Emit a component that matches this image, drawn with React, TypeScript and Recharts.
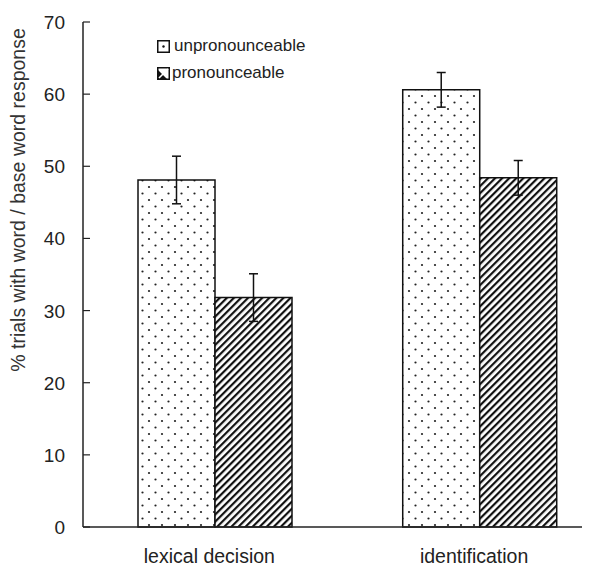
import React from "react";
import { BarChart, Bar, XAxis, YAxis, ErrorBar, Legend } from "recharts";

const categories = ["lexical decision", "identification"];
const categoryPositions = [1, 2];
const unpronounceable = [48.1, 60.6];
const unpronounceableErr = [3.3, 2.4];
const pronounceable = [31.8, 48.4];
const pronounceableErr = [3.3, 2.4];
const yTicks = [0, 10, 20, 30, 40, 50, 60, 70];

const data = categories.map((name, i) => ({
  name,
  pos: categoryPositions[i],
  unpron: unpronounceable[i],
  unpronErr: unpronounceableErr[i],
  pron: pronounceable[i],
  pronErr: pronounceableErr[i],
}));

const FONT = '"Liberation Sans", Arial, sans-serif';

const YTick = ({ y, payload }: any) => (
  <g>
    <line x1={83} x2={90} y1={y} y2={y} stroke="#222" strokeWidth={1.2} />
    <text x={65} y={y} dy={7} textAnchor="end" fontSize={19} fontFamily={FONT} fill="#222">
      {payload.value}
    </text>
  </g>
);

const XTick = ({ x, payload }: any) => {
  const i = categoryPositions.indexOf(payload.value);
  return (
    <text x={x - 6} y={563} textAnchor="middle" fontSize={19.5} fontFamily={FONT} fill="#222">
      {categories[i]}
    </text>
  );
};

// legend drawn as small patterned boxes like the original figure
const LegendContent = () => (
  <div style={{ fontFamily: FONT, fontSize: 17, color: "#222", lineHeight: "18px" }}>
    <div style={{ display: "flex", alignItems: "center", height: 18, marginBottom: 9 }}>
      <svg width={13} height={13} style={{ marginRight: 4 }}>
        <rect x={0.75} y={0.75} width={11.5} height={11.5} fill="#fff" stroke="#111" strokeWidth={1.5} />
        <circle cx={6.5} cy={6.5} r={1.2} fill="#111" />
      </svg>
      <span>unpronounceable</span>
    </div>
    <div style={{ display: "flex", alignItems: "center", height: 18 }}>
      <svg width={13} height={13} style={{ marginRight: 2 }}>
        <rect x={0.75} y={0.75} width={11.5} height={11.5} fill="#fff" stroke="#111" strokeWidth={1.5} />
        <polygon points="1,12 1,3 10,12" fill="#111" />
        <line x1={2} y1={11} x2={11} y2={2} stroke="#fff" strokeWidth={1.6} />
      </svg>
      <span>pronounceable</span>
    </div>
  </div>
);

export default function App() {
  return (
    <div style={{ position: "absolute", left: 0, top: 0, background: "#fff" }}>
      <BarChart
        width={599}
        height={566}
        data={data}
        barGap={0}
        margin={{ top: 22, right: 17, bottom: 9, left: 33 }}
      >
        <defs>
          <pattern id="dots" width={13} height={13} patternUnits="userSpaceOnUse" x={3} y={2}>
            <rect width={13} height={13} fill="#fff" />
            <circle cx={3} cy={3} r={1.1} fill="#222" />
            <circle cx={9.5} cy={9.5} r={1.1} fill="#222" />
          </pattern>
          <pattern
            id="hatch"
            width={5}
            height={5}
            patternUnits="userSpaceOnUse"
            patternTransform="rotate(45)"
          >
            <rect width={5} height={5} fill="#fff" />
            <rect x={0} y={0} width={2.2} height={5} fill="#111" />
          </pattern>
        </defs>
        <XAxis
          dataKey="pos"
          type="number"
          domain={[0.5, 2.385]}
          ticks={categoryPositions}
          allowDataOverflow
          tickLine={false}
          tick={<XTick />}
          axisLine={{ stroke: "#222", strokeWidth: 1.5 }}
          height={30}
        />
        <YAxis
          domain={[0, 70]}
          ticks={yTicks}
          width={50}
          tickLine={false}
          tick={<YTick />}
          axisLine={{ stroke: "#222", strokeWidth: 1.5 }}
          interval={0}
          label={{
            content: () => (
              <text
                x={25}
                y={200}
                transform="rotate(-90 25 200)"
                textAnchor="middle"
                fontSize={19.5}
                fontFamily={FONT}
                fill="#333"
              >
                % trials with word / base word response
              </text>
            ),
          }}
        />
        <Legend
          layout="vertical"
          align="center"
          verticalAlign="middle"
          content={<LegendContent />}
          wrapperStyle={{ position: "absolute", left: 157, top: 37, width: 220, height: 50 }}
        />
        <Bar
          dataKey="unpron"
          name="unpronounceable"
          fill="url(#dots)"
          stroke="#111"
          strokeWidth={1.5}
          barSize={77}
          isAnimationActive={false}
        >
          <ErrorBar dataKey="unpronErr" direction="y" width={4.5} stroke="#111" strokeWidth={1.5} />
        </Bar>
        <Bar
          dataKey="pron"
          name="pronounceable"
          fill="url(#hatch)"
          stroke="#111"
          strokeWidth={1.5}
          barSize={77}
          isAnimationActive={false}
        >
          <ErrorBar dataKey="pronErr" direction="y" width={4.5} stroke="#111" strokeWidth={1.5} />
        </Bar>
      </BarChart>
    </div>
  );
}
